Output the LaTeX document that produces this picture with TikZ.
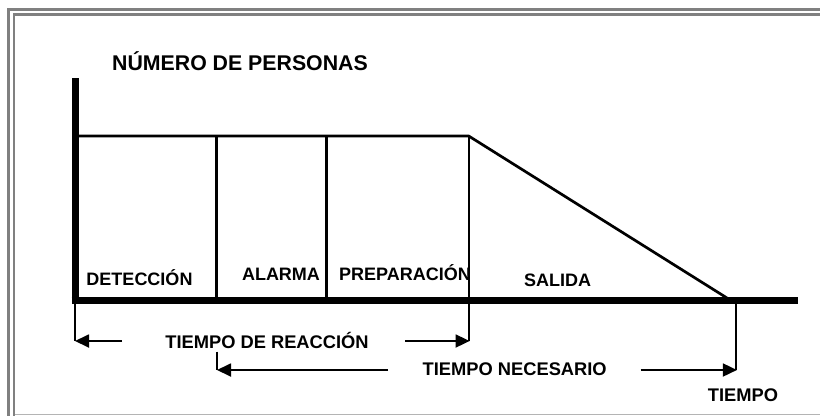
\documentclass[tikz,border=0pt]{standalone}
\usepackage{fontspec}
\setmainfont{Liberation Sans}
\usetikzlibrary{arrows.meta}
\definecolor{framegray}{HTML}{808080}
\definecolor{framelight}{HTML}{B4B4B4}
\begin{document}
\begin{tikzpicture}[x=1pt,y=-1pt,
  lbl/.style={inner sep=0pt,font=\bfseries\fontsize{18.3}{20}\selectfont,anchor=base},
  boxlbl/.style={lbl,font=\bfseries\fontsize{18}{20}\selectfont},
  axisline/.style={line width=7pt},
  graphline/.style={line width=2.7pt},
  dimline/.style={line width=1.8pt},
  dimarrow/.style={dimline,-{Triangle[length=14pt,width=13pt]}},
  frameline/.style={line width=2.7pt,draw=framegray}]
\useasboundingbox (0,0) rectangle (820,416);
% frame
\draw[frameline] (8.7,9.7) -- (820,9.7);
\draw[frameline] (14,14.7) -- (820,14.7);
\draw[frameline] (8.7,8.4) -- (8.7,416);
\draw[frameline] (14,13.4) -- (14,416);
\draw[line width=1.5pt,draw=framelight] (15.3,414.5) -- (820,414.5);
% coordinates
\coordinate (ytop) at (75,78);
\coordinate (orig) at (75,300.5);
\coordinate (xend) at (798,300.5);
\coordinate (tl) at (78,136);
\coordinate (d1t) at (216.7,136);
\coordinate (d1b) at (216.7,298);
\coordinate (d2t) at (326.7,136);
\coordinate (d2b) at (326.7,298);
\coordinate (d3t) at (468.7,136);
\coordinate (d3b) at (468.7,341);
\coordinate (diagend) at (727,298);
\coordinate (lt) at (75,341);
\coordinate (lstart) at (122,341);
\coordinate (rstart) at (405,341);
\coordinate (nt) at (217,351.7);
\coordinate (nb) at (217,370);
\coordinate (nlstart) at (388,370);
\coordinate (nrstart) at (640.7,370);
\coordinate (tt) at (736,300);
\coordinate (tb) at (736,370);
% plot
\draw[graphline] (tl) -- (d3t) -- (diagend);
\draw[graphline] (d1t) -- (d1b);
\draw[graphline] (d2t) -- (d2b);
\draw[axisline] ([yshift=-3.5pt]orig) -- (ytop);
\draw[axisline] ([xshift=-3.5pt]orig) -- (xend);
% dimension lines
\draw[dimline] (orig) -- (lt);
\draw[dimline] (d3t) -- (d3b);
\draw[dimarrow] (lstart) -- (lt);
\draw[dimarrow] (rstart) -- ([xshift=0.9pt]d3b);
\draw[dimline] (nt) -- (nb);
\draw[dimarrow] (nlstart) -- (nb);
\draw[dimline] (tt) -- (tb);
\draw[dimarrow] (nrstart) -- ([xshift=0.9pt]tb);
% texts
\node[lbl,font=\bfseries\fontsize{21.3}{24}\selectfont] (title) at (240,70) {NÚMERO DE PERSONAS};
\node[boxlbl] (det) at (139.5,285) {DETECCIÓN};
\node[boxlbl] (ala) at (281,280) {ALARMA};
\node[boxlbl] (pre) at (405,280) {PREPARACIÓN};
\node[boxlbl] (sal) at (557.5,286.7) {SALIDA};
\node[lbl] (treac) at (267,348.3) {TIEMPO DE REACCIÓN};
\node[lbl] (tnec) at (514.7,375.7) {TIEMPO NECESARIO};
\node[lbl] (tiempo) at (743,401.7) {TIEMPO};
\end{tikzpicture}
\end{document}
